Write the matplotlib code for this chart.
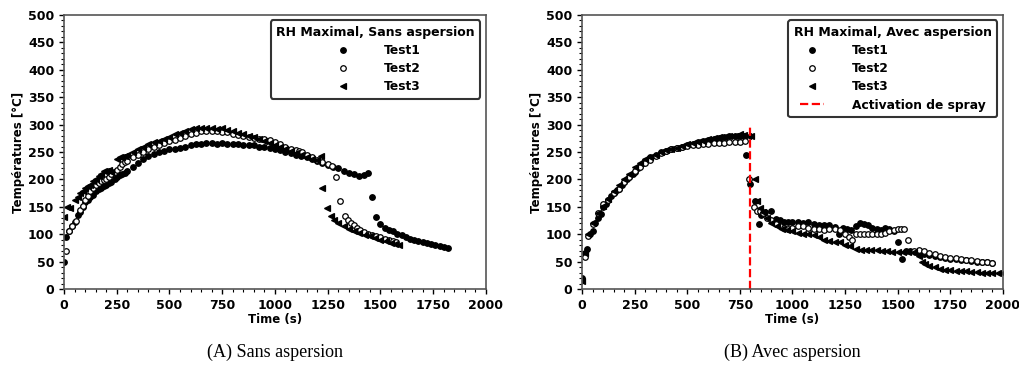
import matplotlib
matplotlib.use("Agg")
import matplotlib.pyplot as plt
from matplotlib.ticker import MultipleLocator, AutoMinorLocator

# ---------------- Data: (A) Sans aspersion ----------------
a_t1_x = [0, 10, 25, 40, 50, 65, 75, 90, 100, 115, 125, 140, 150, 165, 175, 190, 200, 215, 225, 240, 250, 265, 275, 290,
          300, 325, 350, 375, 400, 425, 450, 475, 500, 525, 550, 575, 600, 625, 650, 675, 700, 725, 750, 775, 800,
          825, 850, 875, 900, 925, 950, 975, 1000, 1025, 1050, 1075, 1100, 1125, 1150, 1175, 1200, 1225, 1250,
          1275, 1300, 1325, 1350, 1375, 1400, 1420, 1440, 1460, 1480, 1500, 1520, 1540, 1560, 1580, 1600, 1620,
          1640, 1660, 1680, 1700, 1720, 1740, 1760, 1780, 1800, 1820]
a_t1_y = [50, 95, 105, 115, 122, 135, 140, 150, 158, 162, 168, 172, 178, 182, 185, 188, 190, 193, 196, 200, 205, 208, 210, 212,
          215, 222, 230, 238, 243, 246, 250, 252, 255, 256, 258, 260, 262, 264, 265, 266, 266, 265, 266, 265, 265,
          264, 263, 262, 262, 260, 259, 257, 255, 253, 250, 248, 245, 242, 240, 237, 233, 230, 227, 223, 220, 216,
          212, 209, 207, 208, 212, 167, 131, 118, 112, 108, 105, 101, 98, 95, 92, 90, 88, 85, 84, 82, 80, 78, 76, 74]

a_t2_x = [10, 25, 40, 55, 75, 90, 100, 115, 125, 140, 150, 165, 175, 190, 200, 215, 225, 240, 250, 265, 275, 290, 300, 325,
          350, 375, 400, 425, 450, 475, 500, 525, 550, 575, 600, 625, 650, 675, 700, 725, 750, 775, 800, 825, 850,
          875, 900, 925, 950, 975, 1000, 1025, 1050, 1075, 1100, 1115, 1130, 1150, 1175, 1200, 1225, 1250, 1270,
          1290, 1310, 1330, 1345, 1360, 1375, 1390, 1405, 1420, 1440, 1460, 1480, 1500, 1520, 1540, 1560, 1575]
a_t2_y = [70, 105, 115, 124, 145, 152, 162, 170, 178, 185, 190, 194, 197, 199, 200, 205, 210, 214, 217, 222, 228, 232, 234, 240,
          245, 250, 255, 259, 262, 266, 270, 272, 276, 280, 282, 285, 288, 289, 288, 288, 287, 286, 283, 281, 280,
          278, 276, 274, 273, 271, 268, 264, 260, 256, 253, 251, 250, 245, 240, 235, 231, 228, 225,
          205, 160, 133, 125, 120, 116, 112, 108, 104, 100, 98, 96, 94, 92, 90, 88, 86]

a_t3_x = [0, 15, 30, 50, 65, 75, 90, 100, 115, 125, 140, 150, 165, 175, 190, 200, 215, 225, 250, 265, 275, 290, 300, 325,
          350, 375, 400, 425, 450, 475, 500, 525, 550, 575, 600, 625, 650, 675, 700, 725, 750, 775, 800, 825, 850,
          875, 900, 925, 950, 975, 1000, 1025, 1050, 1075, 1100, 1125, 1150, 1175, 1200, 1220, 1225, 1245, 1265,
          1280, 1300, 1325, 1350, 1375, 1400, 1425, 1450, 1475, 1500, 1525, 1550, 1570, 1590]
a_t3_y = [132, 150, 148, 162, 168, 175, 178, 185, 188, 190, 197, 200, 207, 210, 215, 215, 218, 213, 238, 240, 240, 243, 245, 250,
          255, 260, 265, 268, 270, 274, 278, 283, 285, 288, 292, 293, 293, 293, 293, 292, 293, 290, 288, 285, 282,
          280, 277, 273, 270, 266, 263, 259, 255, 251, 248, 244, 240, 237, 235, 243, 185, 148, 133,
          126, 120, 115, 110, 106, 102, 99, 96, 93, 90, 87, 84, 82, 80]

# ---------------- Data: (B) Avec aspersion ----------------
b_t1_x = [0, 15, 25, 40, 50, 60, 75, 90, 100, 115, 125, 140, 150, 165, 175, 190, 200, 215, 225, 240, 250, 265, 275, 290,
          300, 325, 350, 375, 400, 425, 450, 475, 500, 525, 550, 575, 600, 625, 650, 675, 700, 725, 750, 770,
          780, 800, 820, 840, 850, 870, 900, 920, 940, 960, 980, 1000, 1025, 1050, 1075, 1100, 1125, 1150, 1175,
          1200, 1220, 1240, 1260, 1280, 1300, 1320, 1340, 1360, 1380, 1400, 1420, 1440, 1460, 1480, 1500, 1520,
          1540, 1560, 1580, 1600, 1625, 1650, 1675, 1700, 1725, 1750, 1775, 1800, 1825, 1850, 1875, 1900, 1925, 1950]
b_t1_y = [20, 65, 73, 100, 105, 120, 130, 137, 150, 155, 163, 170, 175, 180, 182, 190, 195, 200, 205, 210, 213, 220, 225, 230,
          233, 240, 245, 250, 252, 255, 258, 260, 263, 265, 268, 270, 272, 274, 276, 278, 279, 280, 280, 280,
          245, 192, 160, 118, 135, 140, 143, 128, 125, 123, 122, 123, 122, 120, 122, 118, 117, 117, 116,
          113, 100, 112, 110, 108, 115, 120, 118, 117, 112, 110, 108, 112, 110, 105, 85, 55,
          70, 69, 68, 67, 64, 62, 60, 58, 57, 55, 54, 53, 52, 51, 50, 50, 49, 48]

b_t2_x = [15, 30, 50, 75, 100, 125, 150, 175, 200, 225, 250, 275, 300, 325, 350, 375, 400, 425, 450, 475, 500,
          525, 550, 575, 600, 625, 650, 675, 700, 725, 750, 775, 795, 815, 830, 845, 860, 880, 900, 920, 940, 960,
          980, 1000, 1025, 1050, 1075, 1100, 1125, 1150, 1175, 1200, 1225, 1250, 1270, 1285, 1300, 1320, 1340, 1360,
          1380, 1400, 1420, 1440, 1460, 1480, 1500, 1515, 1530, 1550, 1575, 1600, 1625, 1650, 1675, 1700, 1725,
          1750, 1775, 1800, 1825, 1850, 1875, 1900, 1925, 1950]
b_t2_y = [58, 97, 118, 138, 155, 163, 175, 182, 195, 205, 215, 222, 230, 235, 243, 248, 252, 255, 257, 259, 261,
          262, 263, 264, 265, 266, 266, 267, 268, 268, 269, 270, 200, 150, 143, 143, 138, 130, 125, 118, 115, 112,
          110, 112, 115, 115, 112, 110, 110, 108, 110, 110, 108, 100, 95, 90, 100, 100, 101, 100,
          100, 100, 101, 103, 105, 107, 110, 110, 110, 90, 70, 72, 70, 65, 63, 60, 58,
          57, 56, 55, 53, 52, 51, 50, 49, 48]

b_t3_x = [0, 15, 30, 50, 75, 100, 125, 150, 175, 200, 225, 250, 275, 300, 325, 350, 375, 400, 425, 450, 475, 500,
          525, 550, 575, 600, 625, 650, 675, 700, 725, 750, 770, 790, 805, 820, 830, 845, 860, 880, 900, 925, 950,
          975, 1000, 1025, 1050, 1075, 1100, 1125, 1150, 1175, 1200, 1225, 1250, 1275, 1300, 1325, 1350, 1375,
          1400, 1425, 1450, 1475, 1500, 1525, 1550, 1575, 1600, 1615, 1630, 1650, 1675, 1700, 1725, 1750, 1775,
          1800, 1825, 1850, 1875, 1900, 1925, 1950, 1975, 2000]
b_t3_y = [15, 65, 100, 120, 138, 152, 165, 178, 190, 200, 210, 222, 230, 237, 240, 245, 250, 253, 256, 258, 261, 264,
          266, 268, 270, 273, 275, 277, 278, 279, 280, 282, 281, 280, 280, 200, 160, 148, 140, 130, 120, 115, 110,
          108, 105, 103, 100, 100, 98, 95, 90, 88, 85, 85, 80, 78, 73, 72, 72, 72,
          71, 70, 69, 68, 68, 68, 68, 67, 60, 50, 45, 42, 40, 37, 35, 34, 33,
          32, 32, 31, 31, 30, 30, 30, 29, 29]

spray_time = 800
spray_top = 300

x_ticks = [0, 250, 500, 750, 1000, 1250, 1500, 1750, 2000]
y_ticks = [0, 50, 100, 150, 200, 250, 300, 350, 400, 450, 500]

panels = [
    dict(title="RH Maximal, Sans aspersion", caption="(A) Sans aspersion",
         series=[(a_t1_x, a_t1_y), (a_t2_x, a_t2_y), (a_t3_x, a_t3_y)], spray=False),
    dict(title="RH Maximal, Avec aspersion", caption="(B) Avec aspersion",
         series=[(b_t1_x, b_t1_y), (b_t2_x, b_t2_y), (b_t3_x, b_t3_y)], spray=True),
]

labels = ["Test1", "Test2", "Test3"]
styles = [dict(marker="o", mfc="black", mec="black"),
          dict(marker="o", mfc="white", mec="black"),
          dict(marker="<", mfc="black", mec="black")]

plt.rcParams["font.family"] = "DejaVu Sans"
fig = plt.figure(figsize=(10.2, 3.74), dpi=100)

positions = [[0.0627, 0.2273, 0.4137, 0.7326], [0.5706, 0.2273, 0.4127, 0.7326]]

for pos, p in zip(positions, panels):
    ax = fig.add_axes(pos)
    for (xs, ys), lab, st in zip(p["series"], labels, styles):
        ax.plot(xs, ys, linestyle="none", markersize=4.0, markeredgewidth=0.9, label=lab, **st)
    if p["spray"]:
        ax.vlines(spray_time, 0, spray_top, colors="red", linestyles="--", linewidth=1.6,
                  label="Activation de spray")
    ax.set_xlim(0, 2000)
    ax.set_ylim(0, 500)
    ax.set_xticks(x_ticks)
    ax.set_yticks(y_ticks)
    ax.xaxis.set_minor_locator(AutoMinorLocator(5))
    ax.yaxis.set_minor_locator(AutoMinorLocator(5))
    ax.tick_params(which="major", length=3.5, width=1, labelsize=9)
    ax.tick_params(which="minor", length=2, width=0.8)
    for lbl in ax.get_xticklabels() + ax.get_yticklabels():
        lbl.set_fontweight("bold")
    for s in ax.spines.values():
        s.set_color("#555555")
        s.set_linewidth(1.2)
    ax.set_xlabel("Time (s)", fontsize=8.5, fontweight="bold", labelpad=1)
    ax.set_ylabel("Températures [°C]", fontsize=8.5, fontweight="bold", labelpad=2)
    leg = ax.legend(loc="upper right", title=p["title"], prop=dict(weight="bold", size=8.8),
                    title_fontproperties=dict(weight="bold", size=9),
                    frameon=True, fancybox=True, borderpad=0.45, labelspacing=0.42,
                    handlelength=2.0, handletextpad=2.3, borderaxespad=0.45)
    leg.get_frame().set_edgecolor("#333333")
    leg.get_frame().set_linewidth(1.5)
    leg.get_frame().set_alpha(1)
    fig.text(pos[0] + pos[2] / 2, 0.058, p["caption"], ha="center", va="center",
             fontsize=13, family="Liberation Serif")

fig.savefig("out.png", dpi=100)
